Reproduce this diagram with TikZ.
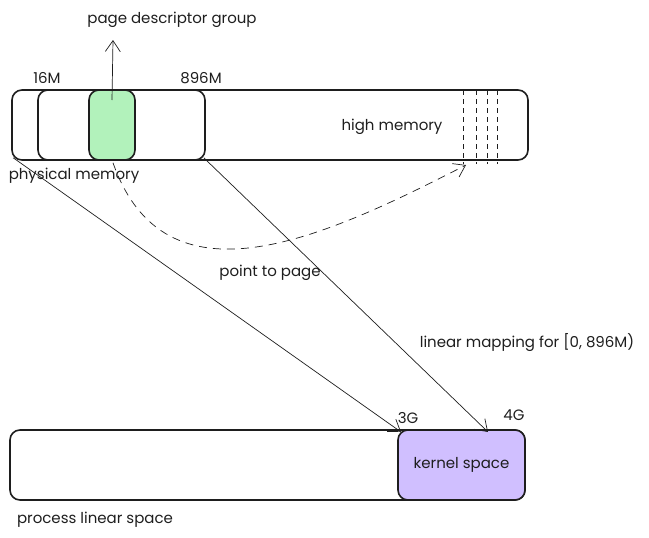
\documentclass[tikz,border=0pt]{standalone}
\usepackage{fontspec}
\setmainfont{Poppins}
\usetikzlibrary{arrows.meta,positioning}
\definecolor{inkline}{HTML}{1E1E1E}
\definecolor{pagegreen}{HTML}{B2F2BB}
\definecolor{kernelpurple}{HTML}{D0BFFF}
\begin{document}
\begin{tikzpicture}
    [
        x=1pt, y=-1pt,
        MemBox/.style={rectangle, rounded corners=10pt, draw=inkline, line width=1.6pt, inner sep=0pt},
        Label/.style={text=inkline, font=\fontsize{15}{17}\selectfont, inner sep=1pt},
        Mapping/.style={draw=inkline, line width=0.7pt, -{Straight Barb[length=11pt,width=15pt]}}
    ]
    \useasboundingbox (0,0) rectangle (649,538);

    % physical memory
    \node[MemBox, minimum width=516pt, minimum height=70pt] (physical_memory) at (270,125) {};
    \node[MemBox, minimum width=167pt, minimum height=70pt] (low_memory) at (121.5,125) {};
    \node[MemBox, fill=pagegreen, minimum width=46pt, minimum height=70pt] (page_group) at (112,125) {};
    \node[Label] (label_physical) at (74,176) {physical memory};
    \node[Label] (label_16M) at (47,78) {16M};
    \node[Label] (label_896M) at (201,78) {896M};
    \node[Label] (label_high) at (392,127) {high memory};
    \node[Label] (label_group) at (172,20) {page descriptor group};
    \foreach \x in {463,476,487,497}
        \draw[inkline, line width=0.8pt, dash pattern=on 5pt off 4pt] (\x,90) -- (\x,164);

    % process linear space
    \node[MemBox, minimum width=515pt, minimum height=70pt] (process_space) at (267.5,465) {};
    \node[MemBox, fill=kernelpurple, minimum width=127pt, minimum height=70pt] (kernel_space) at (461.5,465) {};
    \node[Label] at (kernel_space.center) (label_kernel) {kernel space};
    \node[Label] (label_3G) at (408,418) {3G};
    \node[Label] (label_4G) at (514,415) {4G};
    \node[Label] (label_process) at (95,520) {process linear space};

    \node[Label] (label_point) at (270,273) {point to page};
    \node[Label] (label_linear) at (527,343) {linear mapping for [0, 896M)};

    % connectors
    \coordinate (group_top) at (113,40);
    \coordinate (high_end) at (466,165);
    \coordinate (g3_end) at (401,432);
    \coordinate (g4_end) at (488,432);
    \draw[Mapping] (page_group.center |- 0,100) -- (group_top);
    \draw[Mapping] (physical_memory.south west) ++(2,-3) -- (g3_end);
    \draw[Mapping] (low_memory.south east) ++(-2,-3) -- (g4_end);
    \draw[Mapping, dash pattern=on 8pt off 6pt] (page_group.south) ++(1,2)
        .. controls (165,310) and (320,240) .. (high_end);
\end{tikzpicture}
\end{document}
